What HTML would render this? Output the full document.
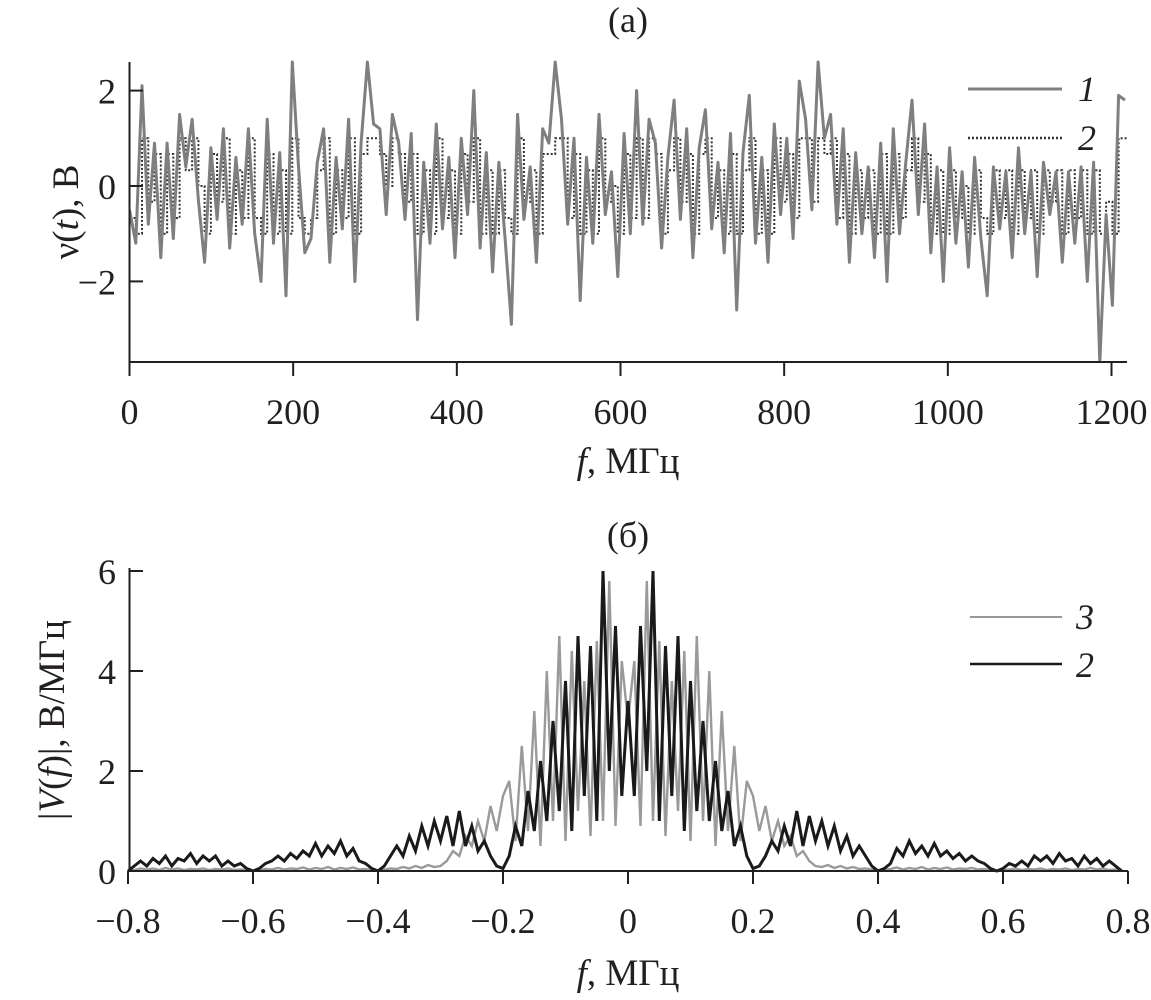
<!DOCTYPE html>
<html><head><meta charset="utf-8"><style>
body{margin:0;background:#fff}
svg text{font-family:"Liberation Serif",serif;fill:#231f20}
</style></head><body>
<svg id="chart" width="1151" height="995" viewBox="0 0 1151 995" xmlns="http://www.w3.org/2000/svg">
<defs>
<clipPath id="ctop"><rect x="129" y="40" width="999" height="322"/></clipPath>
</defs>
<text x="628" y="32" font-size="36" text-anchor="middle">(а)</text>
<text x="628" y="547" font-size="36" text-anchor="middle">(б)</text>
<g id="top"></g>
<g id="bot"></g>
<text x="628" y="473" font-size="37" text-anchor="middle"><tspan font-style="italic">f</tspan>, МГц</text>
<text x="628" y="985" font-size="37" text-anchor="middle"><tspan font-style="italic">f</tspan>, МГц</text>
<text transform="translate(78,212) rotate(-90)" font-size="37" text-anchor="middle">ν(<tspan font-style="italic">t</tspan>), В</text>
<text transform="translate(64,720) rotate(-90)" font-size="37" text-anchor="middle">|<tspan font-style="italic">V</tspan>(<tspan font-style="italic">f</tspan>)|, В/МГц</text>
<g>
<line x1="968" y1="89" x2="1062" y2="89" stroke="#808080" stroke-width="3"/>
<text x="1078" y="101" font-size="36" font-style="italic">1</text>
<line x1="968" y1="138" x2="1062" y2="138" stroke="#333" stroke-width="2.5" stroke-dasharray="2,2"/>
<text x="1078" y="150" font-size="36" font-style="italic">2</text>
</g>
<g>
<line x1="970" y1="617" x2="1062" y2="617" stroke="#999" stroke-width="2"/>
<text x="1076" y="629" font-size="36" font-style="italic">3</text>
<line x1="970" y1="664" x2="1062" y2="664" stroke="#1a1a1a" stroke-width="2.5"/>
<text x="1076" y="677" font-size="36" font-style="italic">2</text>
</g>
</svg>
<script>
const topTicksX=[0,200,400,600,800,1000,1200];
const topTicksY=[2,0,-2];
const series1=[-0.5,-1.2,2.1,-0.8,0.9,-1.5,0.9,-1.1,1.5,0.4,1.4,-0.3,-1.6,0.8,-0.7,1.2,-1.3,0.6,-0.8,1.2,
-1.0,-2.0,1.4,-1.2,0.7,-2.3,2.6,0.4,-1.4,-1.1,0.5,1.2,-1.6,0.6,-0.9,1.4,-2.0,0.9,2.6,1.3,
1.2,-0.6,1.5,0.9,-0.7,1.1,-2.8,0.5,-1.2,1.3,-0.9,0.6,-1.5,1.0,-0.6,2.0,-1.3,0.7,-1.8,0.5,
-1.1,-2.9,1.5,-0.7,0.4,-1.6,1.2,0.9,2.6,1.4,-0.8,1.0,-2.4,0.6,-1.2,1.5,-0.6,0.3,-1.9,1.1,
-1.0,2.0,-0.8,1.4,0.9,-1.3,0.6,1.8,-0.7,1.2,-1.5,0.8,1.6,-0.9,0.5,-1.4,1.1,-2.6,0.7,1.9,
-1.2,0.6,-1.6,1.3,-0.6,1.0,-1.1,2.2,1.4,-0.5,2.6,1.0,1.5,-0.8,1.2,-1.6,0.7,-1.0,0.4,-1.5,
0.9,-2.0,1.2,-1.0,0.5,1.8,-0.6,1.3,-1.4,0.4,-2.0,0.8,-1.2,0.3,-1.7,0.6,-1.1,-2.3,0.4,-0.9,
0.3,-1.5,0.8,-1.0,0.3,-1.9,0.5,-0.6,0.3,-1.6,0.3,-1.2,0.4,-2.0,0.5,-3.7,-0.6,-2.5,1.9,1.8];
const series2=[-0.67,-1,1,-0.33,0.67,-1,0.67,-0.67,1,0.33,1,0,-1,0.67,-0.33,1,-1,0.33,-0.67,1,
-0.67,-1,0.67,-1,0.33,-1,1,-0.67,-1,-0.67,0.33,1,-1,0.33,-0.67,1,-1,0.67,1,1,
0.67,0,1,0.67,-0.33,0.67,-1,0.33,-1,1,-0.67,0.33,-1,0.67,-0.33,1,-1,0.33,-1,0.33,
-0.67,-1,1,-0.33,0.33,-1,0.67,0.67,1,1,-0.67,0.67,-1,0.33,-1,1,-0.33,0,-1,0.67,
-0.67,1,-0.67,1,0.67,-1,0.33,1,-0.33,0.67,-1,0.67,1,-0.67,0.33,-1,0.67,-1,0.33,1,
-1,0.33,-1,1,-0.33,0.67,-0.67,1,1,-0.33,1,0.67,1,-0.67,0.67,-1,0.33,-0.67,0.33,-1,
0.67,-1,0.67,-0.67,0.33,1,-0.33,0.67,-1,0.33,-1,0.33,-0.67,0,-1,0.33,-0.67,-1,0.33,-0.67,
0.33,-1,0.33,-0.67,0.33,-1,0.33,-0.33,0.33,-1,0.33,-0.67,0.33,-1,0.33,-1,-0.33,-1,1,1];
const topStep=7.65;
const botTicksX=[-0.8,-0.6,-0.4,-0.2,0,0.2,0.4,0.6,0.8];
const botTickLabels=["−0.8","−0.6","−0.4","−0.2","0","0.2","0.4","0.6","0.8"];
const botTicksY=[0,2,4,6];
const specStart=-0.8, specStep=0.01;
const spec2=[0,0.1,0.2,0.1,0.25,0.15,0.3,0.1,0.25,0.2,0.35,0.15,0.3,0.2,0.3,0.1,0.2,0.1,0.15,0.05,0,
0.05,0.15,0.2,0.3,0.2,0.35,0.25,0.4,0.3,0.55,0.3,0.5,0.35,0.6,0.3,0.45,0.2,0.15,0.05,0,
0.1,0.3,0.5,0.3,0.7,0.4,0.9,0.5,1.0,0.6,1.1,0.5,1.2,0.5,0.9,0.4,0.6,0.3,0.1,0.05,
0.3,0.9,0.5,1.6,0.8,2.2,1.0,3.0,1.2,3.8,0.8,4.7,1.5,4.5,1.0,6.0,2.0,4.9,1.5,3.4,
1.5,4.9,2.0,6.0,1.0,4.5,1.5,4.7,0.8,3.8,1.2,3.0,1.0,2.2,0.8,1.6,0.5,0.9,0.3,
0.05,0.1,0.3,0.6,0.4,0.9,0.5,1.2,0.5,1.1,0.6,1.0,0.5,0.9,0.4,0.7,0.3,0.5,0.3,0.1,
0,0.05,0.15,0.45,0.3,0.6,0.35,0.5,0.3,0.55,0.3,0.4,0.25,0.35,0.2,0.3,0.2,0.15,0.05,0,
0.05,0.15,0.1,0.2,0.1,0.3,0.2,0.3,0.15,0.35,0.2,0.25,0.1,0.3,0.15,0.25,0.1,0.2,0.1,0];
const spec3=[0,0.02,0.05,0.03,0.05,0.02,0.06,0.03,0.05,0.02,0.04,0.03,0.05,0.02,0.04,0.03,0.05,0.02,0.03,0.02,0,
0.02,0.04,0.03,0.06,0.03,0.05,0.04,0.07,0.03,0.06,0.04,0.08,0.03,0.06,0.04,0.07,0.03,0.04,0.02,0,
0.03,0.05,0.04,0.08,0.05,0.1,0.06,0.12,0.08,0.1,0.2,0.4,0.3,0.7,0.5,1.0,0.6,1.3,0.8,1.5,
1.8,0.6,2.5,0.8,3.2,0.5,4.0,1.0,4.7,0.6,4.4,1.2,3.8,0.7,4.6,1.0,5.8,0.9,4.2,3.0,
4.2,0.9,5.8,1.0,4.6,0.7,3.8,1.2,4.4,0.6,4.7,1.0,4.0,0.5,3.2,0.8,2.5,0.6,1.8,
1.5,0.8,1.3,0.6,1.0,0.5,0.7,0.3,0.4,0.2,0.1,0.08,0.12,0.06,0.1,0.05,0.08,0.04,0.05,0.03,
0,0.02,0.04,0.07,0.03,0.06,0.04,0.08,0.03,0.06,0.04,0.07,0.03,0.05,0.04,0.06,0.03,0.04,0.02,0,
0.02,0.03,0.05,0.02,0.04,0.03,0.05,0.02,0.04,0.03,0.05,0.02,0.04,0.03,0.06,0.03,0.05,0.02,0.03,0];

const NS='http://www.w3.org/2000/svg';
function mk(p,t,a){const e=document.createElementNS(NS,t);for(const k in a)e.setAttribute(k,a[k]);p.appendChild(e);return e;}
const tx=v=>129.5+(v/1200)*982, ty=v=>186-v*47.7;
const topG=document.getElementById('top');
let d1='';series1.forEach((v,i)=>{d1+=(i?'L':'M')+tx(i*topStep).toFixed(1)+','+ty(v).toFixed(1);});
let d2='';series2.forEach((v,i)=>{const x0=tx(i*topStep),x1=tx((i+1)*topStep);d2+=(i?'L':'M')+x0.toFixed(1)+','+ty(v).toFixed(1)+'L'+x1.toFixed(1)+','+ty(v).toFixed(1);});
const s2=mk(topG,'path',{d:d2,fill:'none',stroke:'#333','stroke-width':2,'stroke-dasharray':'2,2','clip-path':'url(#ctop)'});


const s1=mk(topG,'path',{d:d1,fill:'none',stroke:'#7f7f7f','stroke-width':3,'stroke-linejoin':'round','clip-path':'url(#ctop)'});


const ta=mk(topG,'path',{d:'M129.5,62V362H1127',fill:'none',stroke:'#231f20','stroke-width':2});


topTicksX.forEach(v=>{const x=tx(v);mk(topG,'line',{x1:x,y1:362,x2:x,y2:376,stroke:'#231f20','stroke-width':2});
const t=mk(topG,'text',{x:x,y:424,'font-size':36,'text-anchor':'middle'});t.textContent=v;

});
topTicksY.forEach(v=>{const y=ty(v);mk(topG,'line',{x1:129.5,y1:y,x2:143,y2:y,stroke:'#231f20','stroke-width':2});
const t=mk(topG,'text',{x:116,y:y+13,'font-size':36,'text-anchor':'end'});t.textContent=v<0?'−'+(-v):v;

});
const bx=v=>628+v*625, by=v=>871-v*50;
const botG=document.getElementById('bot');
function specPath(arr){let d='';arr.forEach((v,i)=>{d+=(i?'L':'M')+bx(specStart+i*specStep).toFixed(1)+','+by(v).toFixed(1);});return d;}
const p3=mk(botG,'path',{d:specPath(spec3),fill:'none',stroke:'#9a9a9a','stroke-width':2.4});


const p2=mk(botG,'path',{d:specPath(spec2),fill:'none',stroke:'#1a1a1a','stroke-width':3});


const ba=mk(botG,'path',{d:'M129.5,568V871H1128',fill:'none',stroke:'#231f20','stroke-width':2});


botTicksX.forEach((v,i)=>{const x=bx(v);mk(botG,'line',{x1:x,y1:871,x2:x,y2:884,stroke:'#231f20','stroke-width':2});
const t=mk(botG,'text',{x:x,y:933,'font-size':36,'text-anchor':'middle'});t.textContent=botTickLabels[i];

});
botTicksY.forEach(v=>{const y=by(v);mk(botG,'line',{x1:129.5,y1:y,x2:143,y2:y,stroke:'#231f20','stroke-width':2});
const t=mk(botG,'text',{x:116,y:y+13,'font-size':36,'text-anchor':'end'});t.textContent=v;

});
</script>
</body></html>
